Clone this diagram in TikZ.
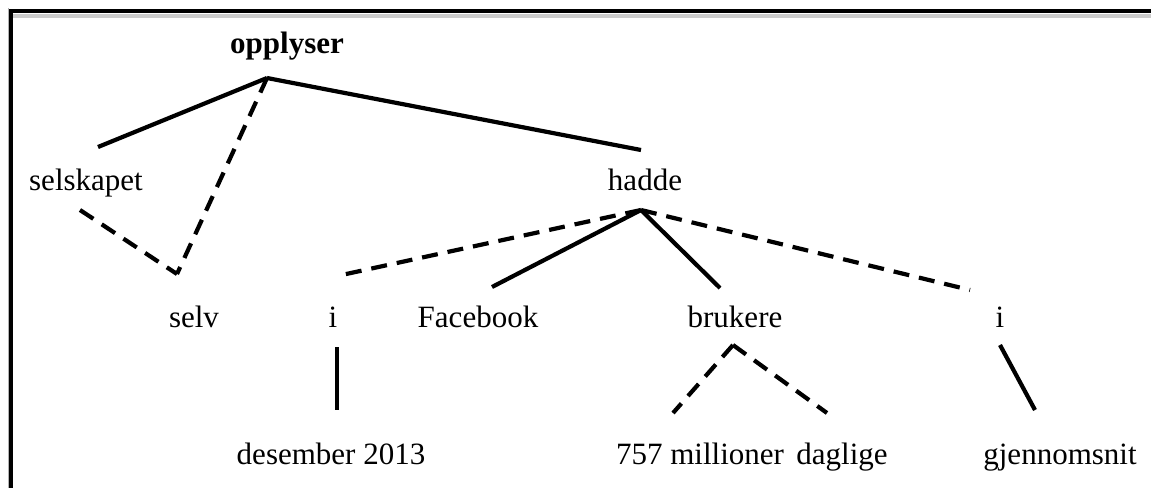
\documentclass[tikz,border=0pt]{standalone}
\usepackage{fontspec}
\setmainfont{Liberation Serif}
\begin{document}
\begin{tikzpicture}[x=1pt,y=-1pt,
  word/.style={anchor=base,inner sep=0pt,font=\fontsize{31}{36}\selectfont},
  headword/.style={word,font=\fontsize{31}{36}\selectfont\bfseries},
  arc/.style={line width=4.2pt},
  darc/.style={line width=4.2pt,dash pattern=on 16pt off 10pt}]
\useasboundingbox (0,0) rectangle (1151,488);
% frame
\fill[gray!60] (8,8) rectangle (9,488);
\fill[black] (9,9) rectangle (12.5,488);
\fill[black] (9,9) rectangle (1151,12.5);
\fill[black!20] (12.5,13.7) rectangle (1151,17.5);
% words
\node[headword] (opplyser) at (287,53) {opplyser};
\node[word] (selskapet) at (86,190) {selskapet};
\node[word] (hadde) at (645,190) {hadde};
\node[word] (selv) at (194,327) {selv};
\node[word] (i1) at (333,327) {i};
\node[word] (facebook) at (478,327) {Facebook};
\node[word] (brukere) at (735,327) {brukere};
\node[word] (i2) at (1000,327) {i};
\node[word] (desember) at (331,464) {desember 2013};
\node[word] (millioner) at (700,464) {757 millioner};
\node[word] (daglige) at (842,464) {daglige};
\node[word] (gjennomsnitt) at (1060,464) {gjennomsnit};
% attachment points
\coordinate (opplyser-b) at (267,78);
\coordinate (selskapet-t) at (98,147);
\coordinate (selskapet-b) at (80,210);
\coordinate (hadde-t) at (641,150);
\coordinate (hadde-b) at (641,210);
\coordinate (selv-t) at (177,274);
\coordinate (i1-t) at (337,276);
\coordinate (i1-b) at (337,347);
\coordinate (facebook-t) at (492,287);
\coordinate (brukere-t) at (720,288);
\coordinate (brukere-b) at (733,345);
\coordinate (i2-t) at (970,290);
\coordinate (i2-b) at (1000,345);
\coordinate (desember-t) at (337,410);
\coordinate (millioner-t) at (673,413);
\coordinate (daglige-t) at (827,413);
\coordinate (gjennomsnitt-t) at (1035,410);
% dependencies
\draw[arc] (opplyser-b) -- (selskapet-t);
\draw[arc] (opplyser-b) -- (hadde-t);
\draw[darc] (opplyser-b) -- (selv-t);
\draw[darc] (selskapet-b) -- (selv-t);
\draw[darc] (hadde-b) -- (i1-t);
\draw[arc] (hadde-b) -- (facebook-t);
\draw[arc] (hadde-b) -- (brukere-t);
\draw[darc] (hadde-b) -- (i2-t);
\draw[arc] (i1-b) -- (desember-t);
\draw[darc] (brukere-b) -- (millioner-t);
\draw[darc] (brukere-b) -- (daglige-t);
\draw[arc] (i2-b) -- (gjennomsnitt-t);
\end{tikzpicture}
\end{document}
